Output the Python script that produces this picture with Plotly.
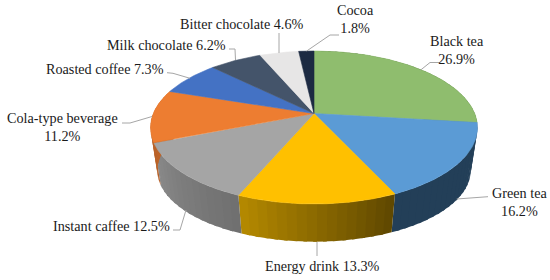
import numpy as np
import plotly.graph_objects as go

categories = ["Black tea", "Green tea", "Energy drink", "Instant caffee", "Cola-type beverage",
              "Roasted coffee", "Milk chocolate", "Bitter chocolate", "Cocoa"]
shares = [26.9, 16.2, 13.3, 12.5, 11.2, 7.3, 6.2, 4.6, 1.8]
top_colors = ["#8FBD6E", "#5B9BD5", "#FFC000", "#A5A5A5", "#ED7D31", "#4472C4", "#44546A", "#E7E6E6", "#1C2A42"]
side_left = ["#56713F", "#233F58", "#B68A00", "#8A8A8A", "#C9692A", "#3A61A7", "#3A475A", "#C4C4C4", "#18243A"]
side_right = ["#56713F", "#233F58", "#5E4700", "#6F6F6F", "#B25D24", "#3A61A7", "#3A475A", "#C4C4C4", "#18243A"]
label_breaks = [True, True, False, False, True, False, False, False, True]

# label placement: x, y of text centre (line block)
label_pos = [(456.5, 49.5), (519.5, 202), (322.5, 266), (111.5, 226),
             (62, 127), (105, 69), (166.5, 44.5), (241.5, 24), (355.5, 19)]
leaders = [
    [(420.7, 70), (430, 62.5), (440, 62.5)],
    [(488, 196.7), (456.7, 199)],
    [(317, 242), (317, 256)],
    [(173, 230), (180, 230), (186, 210)],
    [(122, 123), (130, 123), (152, 116.5)],
    [(167, 72.7), (173, 73.3), (190, 78.3)],
    [(229, 49), (235, 49), (235.5, 60)],
    [(279, 33), (279, 53)],
    [(339, 35), (330, 35), (306.7, 51)],
]

CX, CY, R, S, K = 314.0, 113.5, 160.7, 73.9, 0.183
BOTTOM_R, BOTTOM_S, BOTTOM_CY = 154.0, 68.7, 157.6


def ring(theta, r=R, s=S, cy=CY):
    x, y = np.sin(theta), np.cos(theta)
    w = 1 + K * y
    return CX + r * x / w, cy - s * y / w


def lerp(c1, c2, t):
    a = [int(c1[i:i + 2], 16) for i in (1, 3, 5)]
    b = [int(c2[i:i + 2], 16) for i in (1, 3, 5)]
    return "rgb(%d,%d,%d)" % tuple(round(p + (q - p) * t) for p, q in zip(a, b))


fig = go.Figure()
edges = np.cumsum([0] + shares) / sum(shares) * 2 * np.pi


def poly(xs, ys, color, lw=0.6):
    fig.add_trace(go.Scatter(x=xs, y=ys, mode="lines", fill="toself", fillcolor=color,
                             line=dict(color=color, width=lw), hoverinfo="skip", showlegend=False))


# outer wall: strips on the visible front half, each overlapping the next
for i, color in enumerate(top_colors):
    a0, a1 = edges[i], edges[i + 1]
    if np.cos(a0) > 0.1 and np.cos(a1) > 0.1:
        continue
    n = max(2, int((a1 - a0) / 0.05))
    ts = np.linspace(a0, a1, n + 1)
    for j in range(n):
        end = min(ts[j + 1] + 0.02, a1)
        tt = np.linspace(ts[j], end, 4)
        x1, y1 = ring(tt)
        x2, y2 = ring(tt[::-1], BOTTOM_R, BOTTOM_S, BOTTOM_CY)
        t = (j + 0.5) / n
        poly(list(x1) + list(x2) + [x1[0]], list(y1) + list(y2) + [y1[0]],
             lerp(side_right[i], side_left[i], t), lw=0)

# top faces
for i, color in enumerate(top_colors):
    tt = np.linspace(edges[i], edges[i + 1], 90)
    x1, y1 = ring(tt)
    poly([CX] + list(x1) + [CX], [CY] + list(y1) + [CY], color)

# leader lines
for pts in leaders:
    fig.add_trace(go.Scatter(x=[p[0] for p in pts], y=[p[1] for p in pts], mode="lines",
                             line=dict(color="#A6A6A6", width=1), hoverinfo="skip", showlegend=False))

# labels
for name, v, brk, (lx, ly) in zip(categories, shares, label_breaks, label_pos):
    text = f"{name}<br>{v}%" if brk else f"{name} {v}%"
    fig.add_annotation(x=lx, y=ly, text=text, showarrow=False, xanchor="center", yanchor="middle",
                       font=dict(family="Liberation Serif", size=14.2, color="#1a1a1a"), align="center")

fig.update_xaxes(range=[0, 550], visible=False, fixedrange=True)
fig.update_yaxes(range=[280, 0], visible=False, fixedrange=True)
fig.update_layout(width=550, height=280, margin=dict(l=0, r=0, t=0, b=0),
                  paper_bgcolor="white", plot_bgcolor="white", showlegend=False)
fig.write_html("out.html", post_script="document.body.style.margin='0';",
               config={"displayModeBar": False})
